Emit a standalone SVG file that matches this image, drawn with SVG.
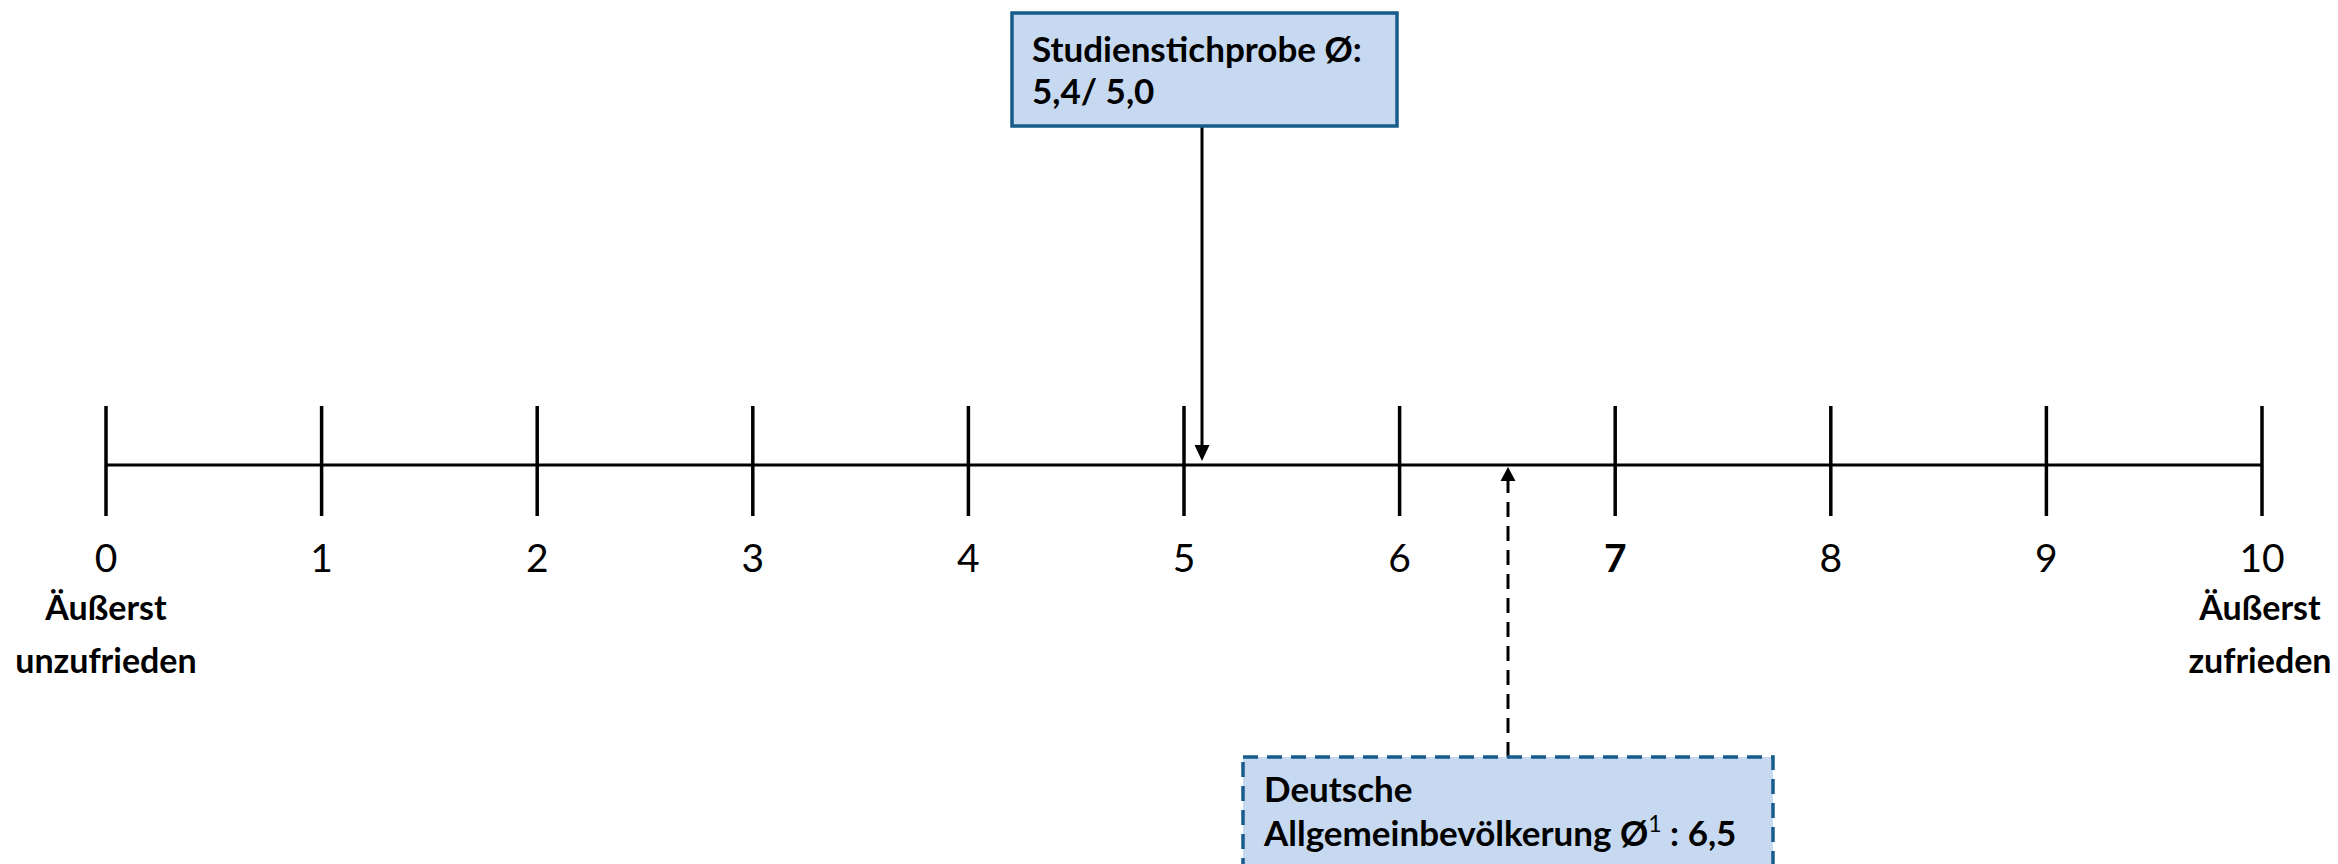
<svg xmlns="http://www.w3.org/2000/svg" width="2338" height="864" viewBox="0 0 2338 864">
<style>
.axis{stroke:#000;stroke-width:3;fill:none}
.tick{stroke:#000;stroke-width:3.5}
.num{font-family:Lato,"Open Sans",sans-serif;font-size:39px;fill:#000;text-anchor:middle}
.end{font-family:Lato,"Open Sans",sans-serif;font-size:34px;font-weight:bold;fill:#000;text-anchor:middle}
.box{fill:#C6D9F1;stroke:#175C8A;stroke-width:3.5}
.dashed{stroke-dasharray:15 9}
.btxt{font-family:Lato,"Open Sans",sans-serif;font-size:35px;font-weight:bold;fill:#000}
.conn{stroke:#000;stroke-width:3;fill:none}
</style>
<rect width="2338" height="864" fill="#fff"/>
<g id="scale">
<line class="axis" x1="106" y1="465" x2="2262" y2="465"/>
<line class="tick" x1="106" y1="406" x2="106" y2="516"/>
<line class="tick" x1="321.6" y1="406" x2="321.6" y2="516"/>
<line class="tick" x1="537.2" y1="406" x2="537.2" y2="516"/>
<line class="tick" x1="752.8" y1="406" x2="752.8" y2="516"/>
<line class="tick" x1="968.4" y1="406" x2="968.4" y2="516"/>
<line class="tick" x1="1184" y1="406" x2="1184" y2="516"/>
<line class="tick" x1="1399.6" y1="406" x2="1399.6" y2="516"/>
<line class="tick" x1="1615.2" y1="406" x2="1615.2" y2="516"/>
<line class="tick" x1="1830.8" y1="406" x2="1830.8" y2="516"/>
<line class="tick" x1="2046.4" y1="406" x2="2046.4" y2="516"/>
<line class="tick" x1="2262" y1="406" x2="2262" y2="516"/>
<text class="num" x="106" y="572">0</text>
<text class="num" x="321.6" y="572">1</text>
<text class="num" x="537.2" y="572">2</text>
<text class="num" x="752.8" y="572">3</text>
<text class="num" x="968.4" y="572">4</text>
<text class="num" x="1184" y="572">5</text>
<text class="num" x="1399.6" y="572">6</text>
<text class="num" x="1615.2" y="572" font-weight="bold">7</text>
<text class="num" x="1830.8" y="572">8</text>
<text class="num" x="2046.4" y="572">9</text>
<text class="num" x="2262" y="572">10</text>
<text class="end" x="106" y="620">Äußerst</text>
<text class="end" x="106" y="673">unzufrieden</text>
<text class="end" x="2260" y="620">Äußerst</text>
<text class="end" x="2260" y="673">zufrieden</text>
</g>
<g id="connectors">
<line class="conn" x1="1202" y1="126" x2="1202" y2="447"/>
<polygon points="1194.5,445 1209.5,445 1202,461" fill="#000"/>
<line class="conn dashed" x1="1508" y1="757" x2="1508" y2="478"/>
<polygon points="1500.5,481 1515.5,481 1508,467" fill="#000"/>
</g>
<g id="studienstichprobe">
<rect class="box" x="1012" y="13" width="385" height="113"/>
<text class="btxt" x="1032" y="62">Studienstichprobe Ø:</text>
<text class="btxt" x="1032" y="104">5,4/ 5,0</text>
</g>
<g id="allgemeinbevoelkerung">
<rect class="box dashed" x="1243" y="757" width="530" height="140"/>
<text class="btxt" x="1264" y="802" font-size="37">Deutsche</text>
<text class="btxt" x="1264" y="846" font-size="37">Allgemeinbevölkerung Ø<tspan font-size="23" font-weight="normal" dy="-14">1</tspan><tspan dy="14"> : 6,5</tspan></text>
</g>
</svg>
